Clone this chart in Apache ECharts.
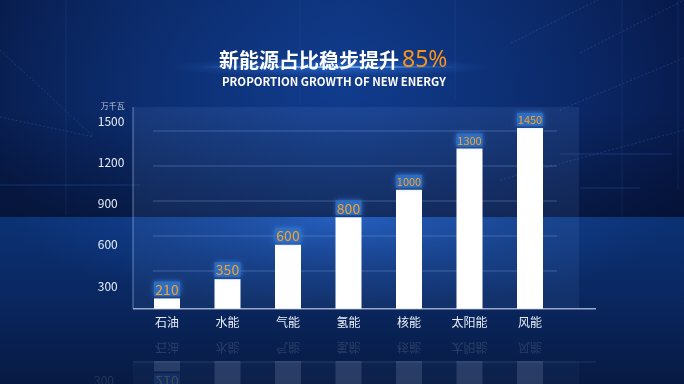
<!DOCTYPE html>
<html><head><meta charset="utf-8">
<script src="https://cdn.jsdelivr.net/npm/echarts@6/dist/echarts.min.js"></script>
<style>html,body{margin:0;padding:0;background:#071a44;}#c{width:684px;height:384px;}</style>
</head><body><div id="c"></div>
<script>
const categories = ['石油','水能','气能','氢能','核能','太阳能','风能'];
const values = [210, 350, 600, 800, 1000, 1300, 1450];
const yTicks = [300, 600, 900, 1200, 1500];
const unitName = '万千瓦';
const titleText = '新能源占比稳步提升';
const titlePercent = '85%';
const subtitleText = 'PROPORTION GROWTH OF NEW ENERGY';
const yMin = 135, yMax = 1500;

const FONT = '"Noto Sans CJK SC", "Noto Sans", sans-serif';
const chart = echarts.init(document.getElementById('c'), null, {renderer: 'canvas'});

function lin(x1, y1, x2, y2, stops) {
  return new echarts.graphic.LinearGradient(x1, y1, x2, y2, stops.map(s => ({offset: s[0], color: s[1]})));
}
function rad(cx, cy, r, stops) {
  return new echarts.graphic.RadialGradient(cx, cy, r, stops.map(s => ({offset: s[0], color: s[1]})));
}

const deco = [];
// background sky
deco.push({type: 'rect', z: -100, shape: {x: 0, y: 0, width: 684, height: 384},
  style: {fill: lin(0, 0, 1, 0, [[0, '#081d4e'], [0.5, '#0c2f74'], [1, '#07194a']])}});
deco.push({type: 'rect', z: -100, x: 342, y: 90, scaleX: 1.9, scaleY: 1,
  shape: {x: -200, y: -200, width: 400, height: 400},
  style: {fill: rad(0.5, 0.5, 0.5, [[0, 'rgba(20,70,160,0.55)'], [1, 'rgba(20,70,160,0)']])}});
deco.push({type: 'rect', z: -100, shape: {x: 0, y: 110, width: 684, height: 107},
  style: {fill: lin(0, 0, 0, 1, [[0, 'rgba(3,10,32,0)'], [1, 'rgba(3,10,32,0.45)']])}});
// floor
deco.push({type: 'rect', z: -99, shape: {x: 0, y: 217, width: 684, height: 167},
  style: {fill: lin(0, 0, 0, 1, [[0, '#0c3274'], [0.45, '#0a2862'], [1, '#071a42']])}});
deco.push({type: 'rect', z: -98, x: 342, y: 217, scaleX: 3.3, scaleY: 0.9,
  shape: {x: -100, y: 0, width: 200, height: 100},
  style: {fill: rad(0.5, 0, 1, [[0, 'rgba(40,115,235,0.6)'], [0.6, 'rgba(30,95,210,0.2)'], [1, 'rgba(30,95,210,0)']])}});
// decorative sci-fi lines
const faint = 'rgba(70,130,230,0.25)';
[[66, 0, 66, 215], [622, 0, 622, 217], [678, 0, 678, 190], [300, 0, 300, 105], [455, 0, 455, 100]].forEach(l =>
  deco.push({type: 'line', z: -96, shape: {x1: l[0], y1: l[1], x2: l[2], y2: l[3]}, style: {stroke: 'rgba(60,120,220,0.15)', lineWidth: 1}}));
[[0, 50, 94, 137], [0, 117, 94, 137], [511, 43, 598, 0], [560, 110, 684, 58], [580, 53, 684, 0], [500, 180, 684, 130]].forEach(l =>
  deco.push({type: 'line', z: -96, shape: {x1: l[0], y1: l[1], x2: l[2], y2: l[3]}, style: {stroke: faint, lineWidth: 1, lineDash: [2, 2]}}));
[[0, 185, 140, 185], [560, 154, 672, 154], [580, 188, 640, 188]].forEach(l =>
  deco.push({type: 'line', z: -96, shape: {x1: l[0], y1: l[1], x2: l[2], y2: l[3]}, style: {stroke: 'rgba(60,120,220,0.28)', lineWidth: 1}}));
// panel
deco.push({type: 'rect', z: -90, shape: {x: 133, y: 107, width: 446, height: 201.7},
  style: {fill: lin(0, 0, 0, 1, [[0, 'rgba(110,150,220,0.12)'], [1, 'rgba(110,160,230,0.09)']])}});
deco.push({type: 'line', z: -89, shape: {x1: 133, y1: 107, x2: 133, y2: 308.7}, style: {stroke: 'rgba(170,200,240,0.55)', lineWidth: 1}});
[131, 166, 201, 236, 271].forEach(y =>
  deco.push({type: 'line', z: -89, shape: {x1: 153, y1: y, x2: 557, y2: y}, style: {stroke: 'rgba(140,175,230,0.35)', lineWidth: 1}}));
// x axis line
deco.push({type: 'line', z: -80, shape: {x1: 133, y1: 308.7, x2: 596, y2: 308.7}, style: {stroke: 'rgba(200,215,240,0.75)', lineWidth: 1.5}});
// reflection panel
deco.push({type: 'rect', z: -90, shape: {x: 133, y: 361, width: 446, height: 23}, style: {fill: 'rgba(110,150,220,0.05)'}});
deco.push({type: 'line', z: -89, shape: {x1: 133, y1: 362, x2: 596, y2: 362}, style: {stroke: 'rgba(200,215,240,0.13)', lineWidth: 1}});
deco.push({type: 'text', z: -89, x: 94, y: 381, scaleY: -1,
  style: {text: String(yTicks[0]), fill: 'rgba(232,238,248,0.12)', font: '12px ' + FONT, verticalAlign: 'middle'}});
// title glow line
deco.push({type: 'rect', z: -50, shape: {x: 200, y: 66, width: 260, height: 2},
  style: {fill: lin(0, 0, 1, 0, [[0, 'rgba(80,160,255,0)'], [0.5, 'rgba(160,215,255,0.8)'], [1, 'rgba(80,160,255,0)']])}});
deco.push({type: 'rect', z: -51, x: 330, y: 67, scaleX: 4, scaleY: 0.25,
  shape: {x: -40, y: -40, width: 80, height: 80},
  style: {fill: rad(0.5, 0.5, 0.5, [[0, 'rgba(60,140,255,0.45)'], [1, 'rgba(60,140,255,0)']])}});

const barData = values.map(v => {
  const long = String(v).length > 3;
  return {value: v, label: {fontSize: long ? 11 : 14, lineHeight: long ? 12 : 14}};
});

const MIRROR_Y = 334.85; // reflection line between axis and mirrored axis

const option = {
  backgroundColor: '#071a44',
  animation: false,
  graphic: deco,
  title: [
    {text: '{t|' + titleText + '}{o|' + titlePercent + '}', left: 214, top: 41,
      textStyle: {rich: {
        t: {color: '#ffffff', fontSize: 20, fontWeight: 'bold', fontFamily: FONT, lineHeight: 28},
        o: {color: '#f7941d', fontSize: 23, fontWeight: 'normal', fontFamily: '"Noto Sans", sans-serif', lineHeight: 28, padding: [0, 0, 0, 3]}}}},
    {text: subtitleText, left: 217, top: 70,
      textStyle: {color: '#ffffff', fontSize: 11.4, fontWeight: 'bold', fontFamily: FONT, lineHeight: 14}}
  ],
  grid: {left: 136.75, width: 423.5, top: 121, height: 187.7},
  xAxis: {type: 'category', data: categories,
    axisLine: {show: false}, axisTick: {show: false},
    axisLabel: {color: '#e8eef8', fontSize: 12, fontFamily: FONT, margin: 8}},
  yAxis: {type: 'value', min: yMin, max: yMax,
    name: unitName, nameLocation: 'end', nameGap: 11,
    nameTextStyle: {color: '#b8c6de', fontSize: 8, fontFamily: FONT, align: 'right', padding: [0, 12, 0, 0]},
    axisLine: {show: false}, axisTick: {show: false}, splitLine: {show: false},
    axisLabel: {customValues: yTicks, formatter: v => String(v), color: '#e8eef8', fontSize: 12, fontFamily: FONT, margin: 39, align: 'left'}},
  series: [
    {type: 'bar', data: barData, barWidth: 26, z: 5,
      itemStyle: {color: '#ffffff'},
      label: {show: true, position: 'top', distance: 2, color: '#f7a128', fontFamily: FONT,
        width: 26, align: 'center', padding: [1, 0, 0, 0],
        backgroundColor: 'rgba(45,110,195,0.85)', shadowColor: 'rgba(70,150,255,0.8)', shadowBlur: 5}},
    {type: 'custom', z: 1, silent: true, clip: false,
      data: values.map((v, i) => [i, v]),
      renderItem: function (params, api) {
        const i = api.value(0), v = api.value(1);
        const base = api.coord([i, yMin]);
        const top = api.coord([i, v]);
        const w = api.size([1, 0])[0] * 26 / 60.5;
        const rBase = 2 * MIRROR_Y - base[1];
        const rTop = 2 * MIRROR_Y - top[1];
        const rLabelY = 2 * MIRROR_Y - base[1] + 0; // not used
        const long = String(v).length > 3;
        const h = long ? 13 : 15;
        const labY = 2 * MIRROR_Y - (base[1] + 13.3);
        return {type: 'group', children: [
          {type: 'rect', shape: {x: top[0] - w / 2, y: rBase, width: w, height: rTop - rBase}, style: {fill: 'rgba(200,215,245,0.15)'}},
          {type: 'rect', shape: {x: top[0] - w / 2, y: rTop + 2, width: w, height: h}, style: {fill: 'rgba(45,110,195,0.2)'}},
          {type: 'text', x: top[0], y: rTop + 2 + h / 2, scaleY: -1,
            style: {text: String(v), fill: 'rgba(247,161,40,0.22)', align: 'center', verticalAlign: 'middle',
              font: (long ? 11 : 14) + 'px ' + FONT}},
          {type: 'text', x: base[0], y: labY, scaleY: -1,
            style: {text: categories[i], fill: 'rgba(232,238,248,0.14)', align: 'center', verticalAlign: 'middle',
              font: '12px ' + FONT}}
        ]};
      }}
  ]
};
chart.setOption(option);
</script>
</body></html>
